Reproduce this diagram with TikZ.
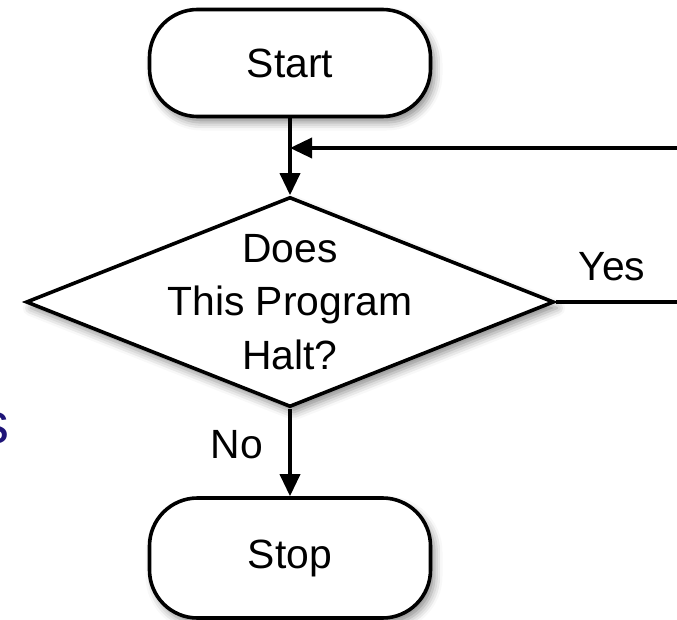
\documentclass[tikz,border=0pt]{standalone}
\usepackage{fontspec}
\setmainfont{Liberation Sans}
\usetikzlibrary{shapes.geometric,arrows.meta,shadows.blur}
\definecolor{slideblue}{RGB}{30,20,120}
\tikzset{
    shade/.style={blur shadow={shadow xshift=2bp, shadow yshift=-3bp, shadow blur radius=4bp, shadow opacity=45}},
    terminal/.style={draw, line width=1.8bp, fill=white, rounded corners=24bp, minimum width=140.5bp, shade},
    decision/.style={diamond, draw, line width=1.8bp, fill=white, inner sep=0pt, minimum width=264bp, minimum height=105bp, shade},
    flow/.style={line width=1.8bp, -{Triangle[length=11bp,width=10bp]}},
    wire/.style={line width=1.8bp},
    tag/.style={font=\fontsize{20.5}{27}\selectfont}
}
\begin{document}
\begin{tikzpicture}[x=0.5bp, y=-0.5bp]
            \useasboundingbox (0,0) rectangle (677,620);
            % Inizio e fine
            \foreach \nodename/\nodetext/\nodey/\nodeh in {start/Start/63/53.5bp, stop/Stop/558/60bp}
                \node[terminal, tag, minimum height=\nodeh] (\nodename) at (290,\nodey) {\nodetext};
            
            % Domanda
            \node[decision, label={[tag, align=center]center:Does\\This Program\\Halt?}] (halt) at (290,302) {};
            
            \coordinate (merge) at (290,148);
            \coordinate (loopin) at (679,148);
            \coordinate (yesout) at (679,302);
            
            \draw[wire] (start) -- (merge);
            \draw[flow] (merge) -- (halt);
            \draw[flow] (loopin) -- (merge);
            \draw[wire] (halt.east) -- (yesout);
            \draw[flow] (halt) -- (stop);
            
            \node[tag] (yes) at (612,267) {Yes};
            \node[tag, fill=white, inner sep=1bp] (no) at (237,445) {No};
            \node[anchor=base east, inner sep=0pt, text=slideblue, font=\fontsize{29}{34}\selectfont] (cut) at (10,443) {s};
        \end{tikzpicture}
\end{document}
